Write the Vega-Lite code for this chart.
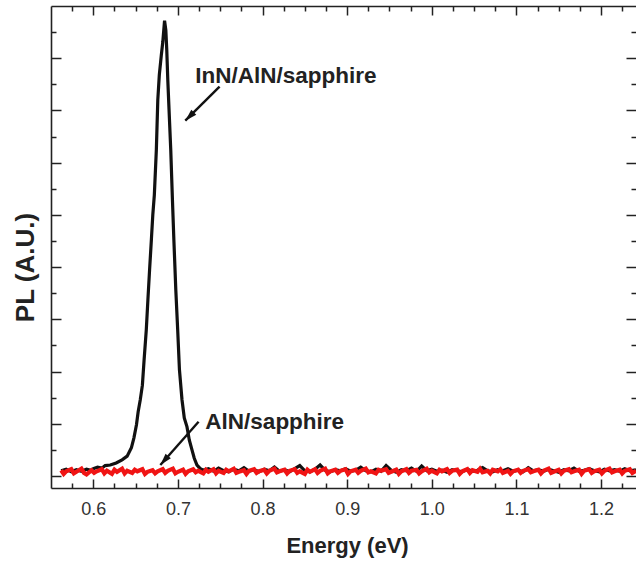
{
  "$schema": "https://vega.github.io/schema/vega-lite/v6.json",
  "width": 585,
  "height": 482,
  "autosize": {"type": "none"},
  "padding": {"left": 51, "top": 6, "right": 0, "bottom": 73},
  "background": "white",
  "config": {
    "view": {"stroke": null},
    "axis": {
      "grid": false,
      "domainColor": "#222",
      "domainWidth": 1.6,
      "tickColor": "#222",
      "tickWidth": 1.5,
      "labelFont": "Liberation Sans",
      "labelFontSize": 18,
      "labelColor": "#333",
      "titleFont": "Liberation Sans",
      "titleFontSize": 22,
      "titleFontWeight": "bold",
      "titleColor": "#222"
    }
  },
  "datasets": {
    "inn": [
      {"e": 0.562, "pl": 0.10}, {"e": 0.568, "pl": 0.13}, {"e": 0.574, "pl": 0.08}, {"e": 0.580, "pl": 0.12},
      {"e": 0.586, "pl": 0.09}, {"e": 0.592, "pl": 0.13}, {"e": 0.597, "pl": 0.11}, {"e": 0.600, "pl": 0.14},
      {"e": 0.605, "pl": 0.17}, {"e": 0.610, "pl": 0.15}, {"e": 0.614, "pl": 0.20}, {"e": 0.620, "pl": 0.21},
      {"e": 0.627, "pl": 0.25}, {"e": 0.634, "pl": 0.31}, {"e": 0.640, "pl": 0.38}, {"e": 0.645, "pl": 0.54},
      {"e": 0.648, "pl": 0.73}, {"e": 0.651, "pl": 0.98}, {"e": 0.653, "pl": 1.23}, {"e": 0.6555, "pl": 1.46},
      {"e": 0.658, "pl": 1.74}, {"e": 0.660, "pl": 2.22}, {"e": 0.6626, "pl": 2.80}, {"e": 0.6645, "pl": 3.37},
      {"e": 0.6665, "pl": 3.95}, {"e": 0.6686, "pl": 4.52}, {"e": 0.6703, "pl": 5.00}, {"e": 0.6721, "pl": 5.38},
      {"e": 0.6745, "pl": 6.25}, {"e": 0.6762, "pl": 7.20}, {"e": 0.678, "pl": 7.68}, {"e": 0.6803, "pl": 8.05},
      {"e": 0.6821, "pl": 8.31}, {"e": 0.6842, "pl": 8.72}, {"e": 0.6857, "pl": 8.54}, {"e": 0.6868, "pl": 8.16},
      {"e": 0.688, "pl": 7.59}, {"e": 0.6895, "pl": 7.01}, {"e": 0.6915, "pl": 6.25}, {"e": 0.6935, "pl": 5.29},
      {"e": 0.6952, "pl": 4.52}, {"e": 0.6975, "pl": 3.56}, {"e": 0.6997, "pl": 2.80}, {"e": 0.7018, "pl": 2.03},
      {"e": 0.7048, "pl": 1.46}, {"e": 0.7075, "pl": 1.11}, {"e": 0.7107, "pl": 0.94}, {"e": 0.7134, "pl": 0.69},
      {"e": 0.7166, "pl": 0.50}, {"e": 0.7193, "pl": 0.34}, {"e": 0.7225, "pl": 0.21}, {"e": 0.7264, "pl": 0.14},
      {"e": 0.730, "pl": 0.11}, {"e": 0.736, "pl": 0.14}, {"e": 0.742, "pl": 0.09}, {"e": 0.748, "pl": 0.15},
      {"e": 0.754, "pl": 0.10}, {"e": 0.760, "pl": 0.08}, {"e": 0.766, "pl": 0.13}, {"e": 0.772, "pl": 0.10},
      {"e": 0.778, "pl": 0.16}, {"e": 0.784, "pl": 0.09}, {"e": 0.790, "pl": 0.12}, {"e": 0.796, "pl": 0.08},
      {"e": 0.802, "pl": 0.13}, {"e": 0.808, "pl": 0.10}, {"e": 0.814, "pl": 0.17}, {"e": 0.820, "pl": 0.09},
      {"e": 0.826, "pl": 0.12}, {"e": 0.832, "pl": 0.08}, {"e": 0.838, "pl": 0.14}, {"e": 0.844, "pl": 0.20},
      {"e": 0.850, "pl": 0.10}, {"e": 0.856, "pl": 0.08}, {"e": 0.862, "pl": 0.13}, {"e": 0.868, "pl": 0.21},
      {"e": 0.874, "pl": 0.11}, {"e": 0.880, "pl": 0.08}, {"e": 0.886, "pl": 0.12}, {"e": 0.892, "pl": 0.10},
      {"e": 0.898, "pl": 0.14}, {"e": 0.904, "pl": 0.09}, {"e": 0.910, "pl": 0.11}, {"e": 0.916, "pl": 0.17},
      {"e": 0.922, "pl": 0.10}, {"e": 0.928, "pl": 0.08}, {"e": 0.934, "pl": 0.13}, {"e": 0.940, "pl": 0.09},
      {"e": 0.946, "pl": 0.20}, {"e": 0.952, "pl": 0.11}, {"e": 0.958, "pl": 0.07}, {"e": 0.964, "pl": 0.12},
      {"e": 0.970, "pl": 0.10}, {"e": 0.976, "pl": 0.15}, {"e": 0.982, "pl": 0.09}, {"e": 0.988, "pl": 0.19},
      {"e": 0.994, "pl": 0.10}, {"e": 1.000, "pl": 0.13}, {"e": 1.006, "pl": 0.09}, {"e": 1.012, "pl": 0.11},
      {"e": 1.018, "pl": 0.07}, {"e": 1.024, "pl": 0.12}, {"e": 1.030, "pl": 0.10}, {"e": 1.036, "pl": 0.08},
      {"e": 1.042, "pl": 0.13}, {"e": 1.048, "pl": 0.09}, {"e": 1.054, "pl": 0.11}, {"e": 1.060, "pl": 0.16},
      {"e": 1.066, "pl": 0.10}, {"e": 1.072, "pl": 0.08}, {"e": 1.078, "pl": 0.12}, {"e": 1.084, "pl": 0.10},
      {"e": 1.090, "pl": 0.14}, {"e": 1.096, "pl": 0.09}, {"e": 1.102, "pl": 0.11}, {"e": 1.108, "pl": 0.08},
      {"e": 1.114, "pl": 0.16}, {"e": 1.120, "pl": 0.10}, {"e": 1.126, "pl": 0.12}, {"e": 1.132, "pl": 0.09},
      {"e": 1.138, "pl": 0.13}, {"e": 1.144, "pl": 0.10}, {"e": 1.150, "pl": 0.07}, {"e": 1.156, "pl": 0.12},
      {"e": 1.162, "pl": 0.10}, {"e": 1.168, "pl": 0.15}, {"e": 1.174, "pl": 0.09}, {"e": 1.180, "pl": 0.11},
      {"e": 1.186, "pl": 0.14}, {"e": 1.192, "pl": 0.10}, {"e": 1.198, "pl": 0.08}, {"e": 1.204, "pl": 0.13},
      {"e": 1.210, "pl": 0.10}, {"e": 1.216, "pl": 0.12}, {"e": 1.222, "pl": 0.09}, {"e": 1.228, "pl": 0.14},
      {"e": 1.234, "pl": 0.10}, {"e": 1.2413, "pl": 0.12}
    ],
    "aln": [
      {"e": 0.562, "pl": 0.11}, {"e": 0.565, "pl": 0.04}, {"e": 0.568, "pl": 0.09}, {"e": 0.574, "pl": 0.13},
      {"e": 0.577, "pl": 0.05}, {"e": 0.580, "pl": 0.08}, {"e": 0.586, "pl": 0.14}, {"e": 0.589, "pl": 0.06},
      {"e": 0.592, "pl": 0.03}, {"e": 0.598, "pl": 0.11}, {"e": 0.601, "pl": 0.06}, {"e": 0.604, "pl": 0.09},
      {"e": 0.610, "pl": 0.13}, {"e": 0.613, "pl": 0.05}, {"e": 0.616, "pl": 0.10}, {"e": 0.622, "pl": 0.04},
      {"e": 0.625, "pl": 0.12}, {"e": 0.628, "pl": 0.08}, {"e": 0.634, "pl": 0.14}, {"e": 0.637, "pl": 0.05},
      {"e": 0.640, "pl": 0.10}, {"e": 0.646, "pl": 0.06}, {"e": 0.649, "pl": 0.12}, {"e": 0.652, "pl": 0.09},
      {"e": 0.658, "pl": 0.13}, {"e": 0.661, "pl": 0.04}, {"e": 0.664, "pl": 0.08}, {"e": 0.670, "pl": 0.11},
      {"e": 0.673, "pl": 0.05}, {"e": 0.676, "pl": 0.09}, {"e": 0.682, "pl": 0.13}, {"e": 0.685, "pl": 0.06},
      {"e": 0.688, "pl": 0.10}, {"e": 0.694, "pl": 0.14}, {"e": 0.697, "pl": 0.05}, {"e": 0.700, "pl": 0.08},
      {"e": 0.706, "pl": 0.12}, {"e": 0.709, "pl": 0.04}, {"e": 0.712, "pl": 0.09}, {"e": 0.718, "pl": 0.13},
      {"e": 0.721, "pl": 0.07}, {"e": 0.724, "pl": 0.10}, {"e": 0.730, "pl": 0.05}, {"e": 0.733, "pl": 0.12},
      {"e": 0.736, "pl": 0.08}, {"e": 0.742, "pl": 0.13}, {"e": 0.745, "pl": 0.05}, {"e": 0.748, "pl": 0.10},
      {"e": 0.754, "pl": 0.06}, {"e": 0.757, "pl": 0.12}, {"e": 0.760, "pl": 0.09}, {"e": 0.766, "pl": 0.14},
      {"e": 0.769, "pl": 0.06}, {"e": 0.772, "pl": 0.08}, {"e": 0.778, "pl": 0.11}, {"e": 0.781, "pl": 0.04},
      {"e": 0.784, "pl": 0.10}, {"e": 0.790, "pl": 0.13}, {"e": 0.793, "pl": 0.06}, {"e": 0.796, "pl": 0.09},
      {"e": 0.802, "pl": 0.12}, {"e": 0.805, "pl": 0.05}, {"e": 0.808, "pl": 0.10}, {"e": 0.814, "pl": 0.14},
      {"e": 0.817, "pl": 0.07}, {"e": 0.820, "pl": 0.09}, {"e": 0.826, "pl": 0.12}, {"e": 0.829, "pl": 0.05},
      {"e": 0.832, "pl": 0.10}, {"e": 0.838, "pl": 0.13}, {"e": 0.841, "pl": 0.06}, {"e": 0.844, "pl": 0.09},
      {"e": 0.850, "pl": 0.04}, {"e": 0.853, "pl": 0.12}, {"e": 0.856, "pl": 0.08}, {"e": 0.862, "pl": 0.13},
      {"e": 0.865, "pl": 0.06}, {"e": 0.868, "pl": 0.10}, {"e": 0.874, "pl": 0.14}, {"e": 0.877, "pl": 0.05},
      {"e": 0.880, "pl": 0.09}, {"e": 0.886, "pl": 0.12}, {"e": 0.889, "pl": 0.06}, {"e": 0.892, "pl": 0.10},
      {"e": 0.898, "pl": 0.13}, {"e": 0.901, "pl": 0.04}, {"e": 0.904, "pl": 0.09}, {"e": 0.910, "pl": 0.12},
      {"e": 0.913, "pl": 0.06}, {"e": 0.916, "pl": 0.10}, {"e": 0.922, "pl": 0.14}, {"e": 0.925, "pl": 0.07},
      {"e": 0.928, "pl": 0.09}, {"e": 0.934, "pl": 0.05}, {"e": 0.937, "pl": 0.12}, {"e": 0.940, "pl": 0.10},
      {"e": 0.946, "pl": 0.13}, {"e": 0.949, "pl": 0.06}, {"e": 0.952, "pl": 0.08}, {"e": 0.958, "pl": 0.12},
      {"e": 0.961, "pl": 0.04}, {"e": 0.964, "pl": 0.09}, {"e": 0.970, "pl": 0.13}, {"e": 0.973, "pl": 0.06},
      {"e": 0.976, "pl": 0.10}, {"e": 0.982, "pl": 0.12}, {"e": 0.985, "pl": 0.05}, {"e": 0.988, "pl": 0.09},
      {"e": 0.994, "pl": 0.14}, {"e": 0.997, "pl": 0.07}, {"e": 1.000, "pl": 0.10}, {"e": 1.006, "pl": 0.05},
      {"e": 1.009, "pl": 0.12}, {"e": 1.012, "pl": 0.09}, {"e": 1.018, "pl": 0.13}, {"e": 1.021, "pl": 0.06},
      {"e": 1.024, "pl": 0.10}, {"e": 1.030, "pl": 0.12}, {"e": 1.033, "pl": 0.04}, {"e": 1.036, "pl": 0.09},
      {"e": 1.042, "pl": 0.13}, {"e": 1.045, "pl": 0.06}, {"e": 1.048, "pl": 0.11}, {"e": 1.054, "pl": 0.08},
      {"e": 1.057, "pl": 0.14}, {"e": 1.060, "pl": 0.07}, {"e": 1.066, "pl": 0.10}, {"e": 1.069, "pl": 0.05},
      {"e": 1.072, "pl": 0.12}, {"e": 1.078, "pl": 0.09}, {"e": 1.081, "pl": 0.13}, {"e": 1.084, "pl": 0.06},
      {"e": 1.090, "pl": 0.10}, {"e": 1.093, "pl": 0.04}, {"e": 1.096, "pl": 0.09}, {"e": 1.102, "pl": 0.12},
      {"e": 1.105, "pl": 0.06}, {"e": 1.108, "pl": 0.10}, {"e": 1.114, "pl": 0.13}, {"e": 1.117, "pl": 0.07},
      {"e": 1.120, "pl": 0.09}, {"e": 1.126, "pl": 0.12}, {"e": 1.129, "pl": 0.05}, {"e": 1.132, "pl": 0.10},
      {"e": 1.138, "pl": 0.14}, {"e": 1.141, "pl": 0.06}, {"e": 1.144, "pl": 0.08}, {"e": 1.150, "pl": 0.12},
      {"e": 1.153, "pl": 0.05}, {"e": 1.156, "pl": 0.10}, {"e": 1.162, "pl": 0.13}, {"e": 1.165, "pl": 0.07},
      {"e": 1.168, "pl": 0.09}, {"e": 1.174, "pl": 0.12}, {"e": 1.177, "pl": 0.04}, {"e": 1.180, "pl": 0.10},
      {"e": 1.186, "pl": 0.13}, {"e": 1.189, "pl": 0.06}, {"e": 1.192, "pl": 0.09}, {"e": 1.198, "pl": 0.12},
      {"e": 1.201, "pl": 0.05}, {"e": 1.204, "pl": 0.10}, {"e": 1.210, "pl": 0.14}, {"e": 1.213, "pl": 0.07},
      {"e": 1.216, "pl": 0.09}, {"e": 1.222, "pl": 0.12}, {"e": 1.225, "pl": 0.05}, {"e": 1.228, "pl": 0.10},
      {"e": 1.234, "pl": 0.13}, {"e": 1.237, "pl": 0.06}, {"e": 1.2413, "pl": 0.10}
    ],
    "arrows": [
      {"id": "inn", "e": 0.7492, "pl": 7.455},
      {"id": "inn", "e": 0.7087, "pl": 6.804},
      {"id": "aln", "e": 0.7244, "pl": 1.039},
      {"id": "aln", "e": 0.6792, "pl": 0.21}
    ],
    "labels": [
      {"e": 0.7205, "pl": 7.66, "label": "InN/AlN/sapphire"},
      {"e": 0.7324, "pl": 1.03, "label": "AlN/sapphire"}
    ]
  },
  "layer": [
    {
      "data": {"name": "inn"},
      "mark": {"type": "line", "color": "#111111", "strokeWidth": 3.2, "clip": true},
      "encoding": {
        "x": {
          "field": "e", "type": "quantitative",
          "scale": {"domain": [0.55, 1.2413], "nice": false, "zero": false},
          "axis": {
            "orient": "bottom",
            "title": "Energy (eV)",
            "titleX": 296, "titleY": 57, "titleAlign": "center", "titleBaseline": "middle",
            "values": [0.575, 0.6, 0.625, 0.65, 0.675, 0.7, 0.725, 0.75, 0.775, 0.8, 0.825, 0.85, 0.875, 0.9, 0.925, 0.95, 0.975, 1.0, 1.025, 1.05, 1.075, 1.1, 1.125, 1.15, 1.175, 1.2, 1.225],
            "tickSize": {"condition": {"test": "abs(datum.value*10 - round(datum.value*10)) < 0.001", "value": -9}, "value": -5},
            "labelExpr": "abs(datum.value*10 - round(datum.value*10)) < 0.001 ? format(datum.value, '.1f') : ''",
            "labelPadding": 21,
            "labelBaseline": "top"
          }
        },
        "y": {
          "field": "pl", "type": "quantitative",
          "scale": {"domain": [-0.23, 9], "nice": false, "zero": false},
          "axis": {
            "orient": "left",
            "title": "PL (A.U.)",
            "titleFontSize": 26,
            "titleX": -26, "titleY": 261, "titleAlign": "center", "titleBaseline": "middle", "titleAngle": -90,
            "values": [0, 0.5, 1, 1.5, 2, 2.5, 3, 3.5, 4, 4.5, 5, 5.5, 6, 6.5, 7, 7.5, 8, 8.5],
            "tickSize": {"condition": {"test": "abs(datum.value - round(datum.value)) < 0.001", "value": -10}, "value": -5},
            "labels": false
          }
        }
      }
    },
    {
      "data": {"name": "aln"},
      "mark": {"type": "line", "color": "#f01414", "strokeWidth": 4.2, "clip": true},
      "encoding": {
        "x": {
          "field": "e", "type": "quantitative",
          "scale": {"domain": [0.55, 1.2413], "nice": false, "zero": false},
          "axis": {
            "orient": "top",
            "title": null,
            "values": [0.575, 0.6, 0.625, 0.65, 0.675, 0.7, 0.725, 0.75, 0.775, 0.8, 0.825, 0.85, 0.875, 0.9, 0.925, 0.95, 0.975, 1.0, 1.025, 1.05, 1.075, 1.1, 1.125, 1.15, 1.175, 1.2, 1.225],
            "tickSize": {"condition": {"test": "abs(datum.value*10 - round(datum.value*10)) < 0.001", "value": -9}, "value": -5},
            "labels": false
          }
        },
        "y": {
          "field": "pl", "type": "quantitative",
          "scale": {"domain": [-0.23, 9], "nice": false, "zero": false},
          "axis": {
            "orient": "right",
            "title": null,
            "domain": false,
            "values": [0, 0.5, 1, 1.5, 2, 2.5, 3, 3.5, 4, 4.5, 5, 5.5, 6, 6.5, 7, 7.5, 8, 8.5],
            "tickSize": {"condition": {"test": "abs(datum.value - round(datum.value)) < 0.001", "value": -10}, "value": -5},
            "labels": false
          }
        }
      }
    },
    {
      "data": {"name": "arrows"},
      "mark": {"type": "line", "color": "#111111", "strokeWidth": 2.4},
      "encoding": {
        "x": {"field": "e", "type": "quantitative", "scale": {"domain": [0.55, 1.2413], "nice": false, "zero": false}, "axis": null},
        "y": {"field": "pl", "type": "quantitative", "scale": {"domain": [-0.23, 9], "nice": false, "zero": false}, "axis": null},
        "detail": {"field": "id"}
      }
    },
    {
      "data": {"name": "arrows"},
      "transform": [{"filter": "datum.id == 'inn' && datum.pl < 7"}],
      "mark": {"type": "point", "shape": "M0,0L0.7,2.4L-0.7,2.4Z", "size": 100, "filled": true, "color": "#111111", "opacity": 1, "angle": 225},
      "encoding": {
        "x": {"field": "e", "type": "quantitative", "scale": {"domain": [0.55, 1.2413], "nice": false, "zero": false}, "axis": null},
        "y": {"field": "pl", "type": "quantitative", "scale": {"domain": [-0.23, 9], "nice": false, "zero": false}, "axis": null}
      }
    },
    {
      "data": {"name": "arrows"},
      "transform": [{"filter": "datum.id == 'aln' && datum.pl < 0.5"}],
      "mark": {"type": "point", "shape": "M0,0L0.7,2.4L-0.7,2.4Z", "size": 100, "filled": true, "color": "#111111", "opacity": 1, "angle": 221},
      "encoding": {
        "x": {"field": "e", "type": "quantitative", "scale": {"domain": [0.55, 1.2413], "nice": false, "zero": false}, "axis": null},
        "y": {"field": "pl", "type": "quantitative", "scale": {"domain": [-0.23, 9], "nice": false, "zero": false}, "axis": null}
      }
    },
    {
      "data": {"name": "labels"},
      "mark": {"type": "text", "align": "left", "baseline": "middle", "font": "Liberation Sans", "fontSize": 22.5, "fontWeight": "bold", "color": "#222222"},
      "encoding": {
        "x": {"field": "e", "type": "quantitative", "scale": {"domain": [0.55, 1.2413], "nice": false, "zero": false}, "axis": null},
        "y": {"field": "pl", "type": "quantitative", "scale": {"domain": [-0.23, 9], "nice": false, "zero": false}, "axis": null},
        "text": {"field": "label"}
      }
    }
  ],
  "resolve": {"axis": {"x": "independent", "y": "independent"}}
}
